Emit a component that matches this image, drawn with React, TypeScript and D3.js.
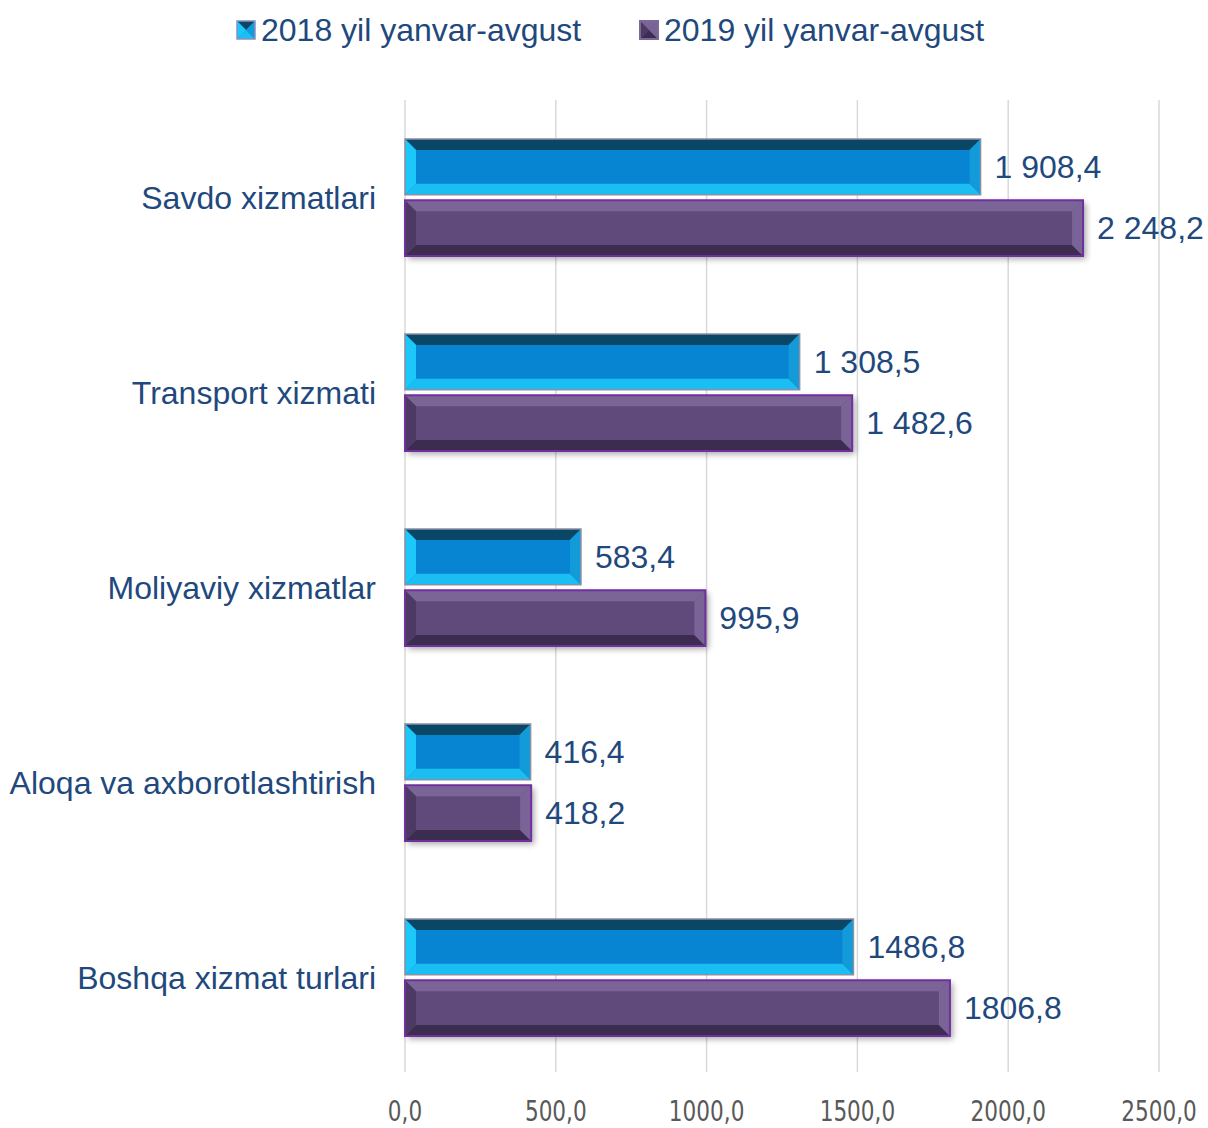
import * as d3 from 'd3'

const categories = [
  'Savdo xizmatlari',
  'Transport xizmati',
  'Moliyaviy xizmatlar',
  'Aloqa va axborotlashtirish',
  'Boshqa xizmat turlari',
]
const seriesNames = ['2018 yil yanvar-avgust', '2019 yil yanvar-avgust']
const values2018 = [1908.4, 1308.5, 583.4, 416.4, 1486.8]
const values2019 = [2248.2, 1482.6, 995.9, 418.2, 1806.8]
const labels2018 = ['1 908,4', '1 308,5', '583,4', '416,4', '1486,8']
const labels2019 = ['2 248,2', '1 482,6', '995,9', '418,2', '1806,8']
const ticks = [0, 500, 1000, 1500, 2000, 2500]

const W = 1208
const H = 1128
const textColor = '#1F497D'

// bevel palettes: center, top, bottom, left, right, border
const styles = [
  { c: '#0785D3', t: '#0A4766', b: '#1ABEF3', l: '#1CC8FA', r: '#139AD9', s: '#8A8FA3', sw: 1.5 },
  { c: '#604A7B', t: '#7B6596', b: '#3C2C4F', l: '#4D3A64', r: '#7A6497', s: '#7030A0', sw: 2 },
]

function BevelBar({ x0, x1, y0, y1, st, shadow }: any) {
  const b = Math.min(11, (x1 - x0) / 2)
  const pts = (a: number[][]) => a.map(p => p.join(',')).join(' ')
  return (
    <g>
      {shadow && (
        <rect x={x0 + 3} y={y0 + 3} width={x1 - x0} height={y1 - y0} fill="#000" opacity={0.35} filter="url(#blur)" />
      )}
      <rect x={x0} y={y0} width={x1 - x0} height={y1 - y0} fill={st.c} />
      <polygon points={pts([[x0, y0], [x1, y0], [x1 - b, y0 + b], [x0 + b, y0 + b]])} fill={st.t} />
      <polygon points={pts([[x0, y1], [x1, y1], [x1 - b, y1 - b], [x0 + b, y1 - b]])} fill={st.b} />
      <polygon points={pts([[x0, y0], [x0 + b, y0 + b], [x0 + b, y1 - b], [x0, y1]])} fill={st.l} />
      <polygon points={pts([[x1, y0], [x1 - b, y0 + b], [x1 - b, y1 - b], [x1, y1]])} fill={st.r} />
      <rect x={x0} y={y0} width={x1 - x0} height={y1 - y0} fill="none" stroke={st.s} strokeWidth={st.sw} />
    </g>
  )
}

export default function App() {
  const x = d3.scaleLinear().domain([0, 2500]).range([405, 1159])
  const y = d3.scaleBand<string>().domain(categories).range([100, 1075]).padding(0)
  const inner = d3.scaleBand<number>().domain([0, 1]).range([39, 156]).paddingInner(0.09)
  const series = [values2018, values2019]
  const labels = [labels2018, labels2019]

  return (
    <svg width={W} height={H} style={{ position: 'absolute', left: 0, top: 0 }} fontFamily="'Liberation Sans', Arial, sans-serif">
      <defs>
        <filter id="blur" x="-10%" y="-30%" width="120%" height="160%">
          <feGaussianBlur stdDeviation="3" />
        </filter>
      </defs>
      <rect width={W} height={H} fill="#fff" />
      {ticks.map(t => (
        <line key={t} x1={x(t)} x2={x(t)} y1={100} y2={1072} stroke="#D9D9D9" strokeWidth={1.5} />
      ))}
      {ticks.map(t => (
        <text key={'t' + t} transform={`translate(${x(t)},1121) scale(1,1.15)`} textAnchor="middle" fontSize={24} fill="#595959"
          fontFamily="'DejaVu Sans Condensed', 'Liberation Sans Narrow', sans-serif">
          {d3.format('.1f')(t).replace('.', ',')}
        </text>
      ))}
      {categories.map((cat, i) => {
        const by = y(cat)!
        return (
          <g key={cat}>
            <text x={376} y={by + y.bandwidth() / 2 + 11} textAnchor="end" fontSize={32} fill={textColor}>{cat}</text>
            {[1, 0].map(s => {
              const y0 = by + inner(s)!
              const y1 = y0 + inner.bandwidth()
              const v = series[s][i]
              return (
                <g key={s}>
                  <BevelBar x0={x(0)} x1={x(v)} y0={y0} y1={y1} st={styles[s]} shadow={s === 1} />
                  <text x={x(v) + 14} y={(y0 + y1) / 2 + 11} fontSize={32} fill={textColor}>{labels[s][i]}</text>
                </g>
              )
            })}
          </g>
        )
      })}
      {seriesNames.map((n, s) => {
        const lx = s === 0 ? 237 : 640
        return (
          <g key={n}>
            <BevelBar x0={lx} x1={lx + 18} y0={21} y1={39} st={{ ...styles[s], s: s === 0 ? '#8A8FC0' : '#7A6A96' }} shadow={false} />
            <text x={lx + 24} y={41} fontSize={32} fill={textColor}>{n}</text>
          </g>
        )
      })}
    </svg>
  )
}
